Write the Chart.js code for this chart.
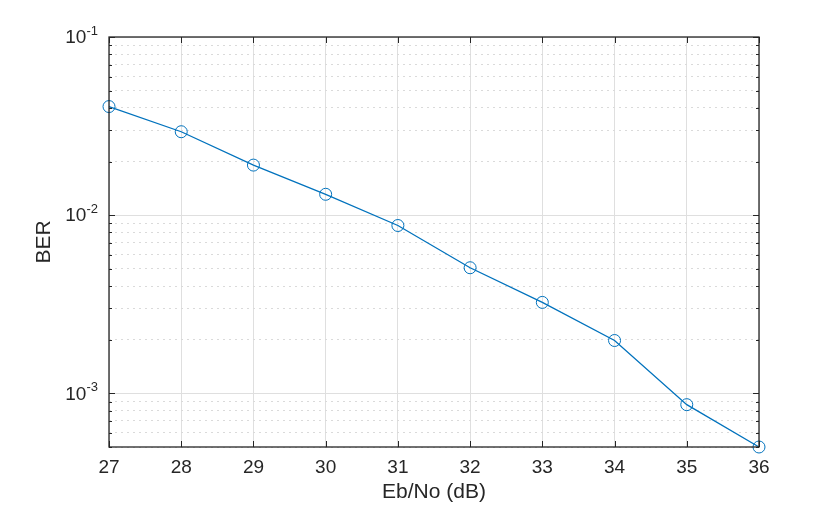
<!DOCTYPE html>
<html>
<head>
<meta charset="utf-8">
<script src="https://cdn.jsdelivr.net/npm/chart.js@4/dist/chart.umd.min.js"></script>
<style>
  html, body { margin: 0; padding: 0; background: #fff; }
  #wrap { width: 840px; height: 505px; }
</style>
</head>
<body>
<div id="wrap"><canvas id="berChart"></canvas></div>
<script>
// data
const ebno = [27, 28, 29, 30, 31, 32, 33, 34, 35, 36];
const ber = [0.0407, 0.0294, 0.0191, 0.0131, 0.00875, 0.00507, 0.00324, 0.00198, 0.000864, 0.0005];

// axis ticks
const xTicks = [27, 28, 29, 30, 31, 32, 33, 34, 35, 36];
const yDecades = [1e-3, 1e-2, 1e-1];
const yDecadeLabels = ["-3", "-2", "-1"];
const yMin = 5e-4, yMax = 1e-1;

const fontFamily = "'Liberation Sans', Arial, sans-serif";
const axisColor = "#262626";

// all log ticks (minor + decades) inside the range
const yTickValues = [];
[1e-4, 1e-3, 1e-2, 1e-1].forEach(d => {
    for (let m = 1; m <= 9; m++) {
        const v = +(m * d).toPrecision(3);
        if (v >= yMin - 1e-12 && v <= yMax + 1e-12) yTickValues.push(v);
    }
});
const isDecade = v => yDecades.some(d => Math.abs(v - d) / d < 1e-6);

// frame, inward tick marks and 10^n labels
const axesPlugin = {
    id: "axesFrame",
    afterDraw(chart) {
        const { ctx, chartArea: a, scales } = chart;
        ctx.save();
        ctx.strokeStyle = axisColor;
        ctx.lineWidth = 1;
        ctx.beginPath();
        xTicks.forEach(t => {
            const x = Math.round(scales.x.getPixelForValue(t)) + 0.5;
            ctx.moveTo(x, a.bottom); ctx.lineTo(x, a.bottom - 6);
            ctx.moveTo(x, a.top); ctx.lineTo(x, a.top + 6);
        });
        yTickValues.forEach(v => {
            const y = Math.round(scales.y.getPixelForValue(v)) + 0.5;
            const len = isDecade(v) ? 6 : 3;
            ctx.moveTo(a.left, y); ctx.lineTo(a.left + len, y);
            ctx.moveTo(a.right, y); ctx.lineTo(a.right - len, y);
        });
        ctx.stroke();
        ctx.lineWidth = 1.3;
        ctx.strokeRect(a.left, a.top, a.right - a.left, a.bottom - a.top);

        ctx.fillStyle = axisColor;
        ctx.textBaseline = "middle";
        yDecades.forEach((d, i) => {
            const y = scales.y.getPixelForValue(d);
            const xr = a.left - 11;
            ctx.font = "13px " + fontFamily;
            const ew = ctx.measureText(yDecadeLabels[i]).width;
            ctx.textAlign = "left";
            ctx.fillText(yDecadeLabels[i], xr - ew, y - 6);
            ctx.font = "19px " + fontFamily;
            ctx.textAlign = "right";
            ctx.fillText("10", xr - ew, y + 1);
        });
        ctx.restore();
    }
};

new Chart(document.getElementById("berChart"), {
    type: "line",
    data: {
        datasets: [{
            data: ebno.map((x, i) => ({ x: x, y: ber[i] })),
            borderColor: "#0072BD",
            borderWidth: 1.3,
            backgroundColor: "rgba(0,0,0,0)",
            pointStyle: "circle",
            pointRadius: 6,
            pointBorderWidth: 1,
            pointBorderColor: "#0072BD",
            pointBackgroundColor: "rgba(0,0,0,0)",
            tension: 0,
            clip: false
        }]
    },
    options: {
        responsive: true,
        maintainAspectRatio: false,
        animation: false,
        events: [],
        layout: { padding: { left: 0, top: 37, right: 81, bottom: 0 } },
        plugins: {
            legend: { display: false },
            tooltip: { enabled: false }
        },
        scales: {
            x: {
                type: "linear",
                min: 27,
                max: 36,
                afterBuildTicks: scale => { scale.ticks = xTicks.map(v => ({ value: v })); },
                afterFit: scale => { scale.height = 58; },
                grid: { color: "#dfdfdf", lineWidth: 1, drawTicks: false },
                border: { display: false },
                ticks: {
                    padding: 9,
                    color: axisColor,
                    font: { family: fontFamily, size: 19 },
                    maxRotation: 0,
                    autoSkip: false
                },
                title: {
                    display: true,
                    text: "Eb/No (dB)",
                    color: axisColor,
                    font: { family: fontFamily, size: 21 },
                    padding: { top: 0, bottom: 0 }
                }
            },
            y: {
                type: "logarithmic",
                min: yMin,
                max: yMax,
                afterBuildTicks: scale => { scale.ticks = yTickValues.map(v => ({ value: v })); },
                afterFit: scale => { scale.width = 109; },
                grid: {
                    drawTicks: false,
                    lineWidth: 1,
                    color: c => (c.tick && isDecade(c.tick.value)) ? "#dfdfdf" : "#dadada"
                },
                border: {
                    display: false,
                    dash: c => (c.tick && !isDecade(c.tick.value)) ? [2, 4] : []
                },
                ticks: { display: false },
                title: {
                    display: true,
                    text: "BER",
                    color: axisColor,
                    font: { family: fontFamily, size: 21 },
                    padding: { top: 32, bottom: 0 }
                }
            }
        }
    },
    plugins: [axesPlugin]
});
</script>
</body>
</html>
